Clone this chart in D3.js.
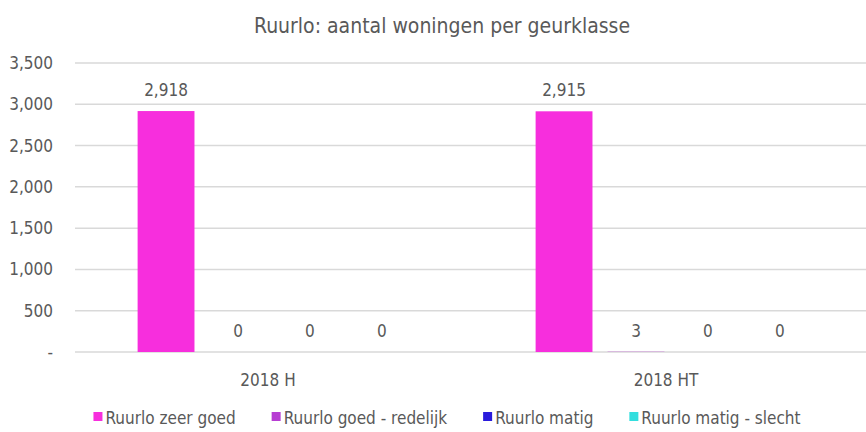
<!DOCTYPE html>
<html>
<head>
<meta charset="utf-8">
<script src="https://cdn.jsdelivr.net/npm/d3@7"></script>
<style>
  body { margin: 0; background: #fff; }
  text { font-family: "Liberation Sans Narrow", "DejaVu Sans Condensed", sans-serif; fill: #595959; }
</style>
</head>
<body>
<div id="chart"></div>
<script>
// --- Data ---
const categories = ["2018 H", "2018 HT"];
const seriesNames = ["Ruurlo zeer goed", "Ruurlo goed - redelijk", "Ruurlo matig", "Ruurlo matig - slecht"];
const zeerGoed = [2918, 2915];
const goedRedelijk = [0, 3];
const matig = [0, 0];
const matigSlecht = [0, 0];
const seriesColors = ["#f72edd", "#b73dd3", "#2a1bdc", "#33dede"];
const yTicks = [0, 500, 1000, 1500, 2000, 2500, 3000, 3500];
const title = "Ruurlo: aantal woningen per geurklasse";

const seriesValues = [zeerGoed, goedRedelijk, matig, matigSlecht];
const fmt = d3.format(",");

const width = 866, height = 432;
const svg = d3.select("#chart").append("svg")
  .attr("width", width)
  .attr("height", height);

// --- Scales ---
const x = d3.scaleBand()
  .domain(categories)
  .range([75, 871]);

const xInner = d3.scaleBand()
  .domain(seriesNames)
  .range([0, x.bandwidth()])
  .paddingInner(0.21)
  .paddingOuter(0.87);

const y = d3.scaleLinear()
  .domain([0, 3500])
  .range([352, 63]);

// --- Title ---
svg.append("text")
  .attr("x", 442)
  .attr("y", 33)
  .attr("text-anchor", "middle")
  .style("font-size", "21px")
  .text(title);

// --- Gridlines ---
svg.append("g")
  .selectAll("line")
  .data(yTicks)
  .join("line")
  .attr("x1", 75)
  .attr("x2", width)
  .attr("y1", d => y(d))
  .attr("y2", d => y(d))
  .attr("stroke", "#d9d9d9")
  .attr("stroke-width", 1.5);

// --- Y axis labels ---
const yAxis = d3.axisLeft(y)
  .tickValues(yTicks)
  .tickSize(0)
  .tickPadding(0)
  .tickFormat(d => d === 0 ? "-" : fmt(d));

svg.append("g")
  .attr("transform", "translate(53,0)")
  .call(yAxis)
  .call(g => g.select(".domain").remove())
  .call(g => g.selectAll("text")
    .style("font-size", "17px")
    .style("font-family", null)
    .attr("fill", "#595959"));

// --- Bars ---
const groups = svg.append("g")
  .selectAll("g")
  .data(categories)
  .join("g")
  .attr("transform", d => `translate(${x(d)},0)`);

groups.each(function(cat, ci) {
  const g = d3.select(this);
  const rows = seriesNames.map((s, si) => ({ s, si, v: seriesValues[si][ci] }));

  g.selectAll("rect")
    .data(rows)
    .join("rect")
    .attr("x", d => xInner(d.s))
    .attr("y", d => y(d.v))
    .attr("width", xInner.bandwidth())
    .attr("height", d => y(0) - y(d.v))
    .attr("fill", d => seriesColors[d.si]);

  g.selectAll("text")
    .data(rows)
    .join("text")
    .attr("x", d => xInner(d.s) + xInner.bandwidth() / 2)
    .attr("y", d => y(d.v) - 15)
    .attr("text-anchor", "middle")
    .style("font-size", "17px")
    .text(d => fmt(d.v));
});

// --- X axis labels ---
const xAxis = d3.axisBottom(x).tickSize(0).tickPadding(0);
svg.append("g")
  .attr("transform", "translate(-6,386)")
  .call(xAxis)
  .call(g => g.select(".domain").remove())
  .call(g => g.selectAll("text")
    .attr("dy", 0)
    .style("font-size", "17px")
    .style("font-family", null)
    .attr("fill", "#595959"));

// --- Legend ---
const legend = svg.append("g");
const items = legend.selectAll("g")
  .data(seriesNames)
  .join("g");

items.append("rect")
  .attr("width", 9)
  .attr("height", 9)
  .attr("y", -12)
  .attr("fill", (d, i) => seriesColors[i]);

items.append("text")
  .attr("x", 12)
  .attr("y", 0)
  .style("font-size", "17px")
  .text(d => d);

const legendGap = 36;
let cursor = 0;
items.each(function() {
  const node = d3.select(this);
  node.attr("transform", `translate(${cursor},0)`);
  cursor += 12 + node.select("text").node().getComputedTextLength() + legendGap;
});
const legendWidth = cursor - legendGap;
legend.attr("transform", `translate(${447 - legendWidth / 2},424)`);
</script>
</body>
</html>
